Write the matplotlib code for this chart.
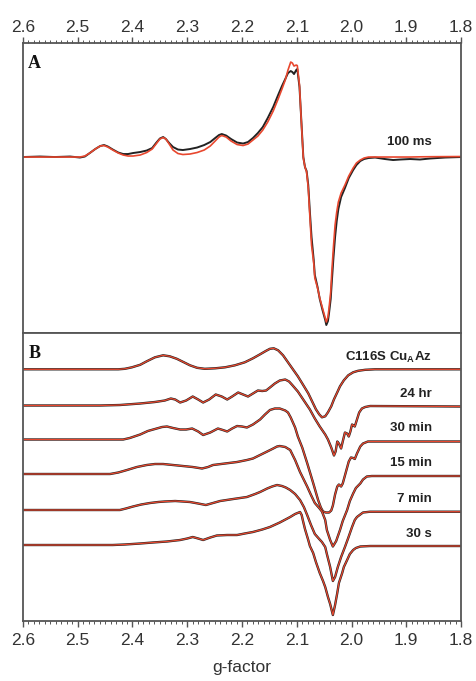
import numpy as np
import matplotlib.pyplot as plt
from matplotlib.ticker import MultipleLocator
from matplotlib.transforms import blended_transform_factory

plt.rcParams['font.family'] = ['Liberation Sans', 'DejaVu Sans']
plt.rcParams['mathtext.fontset'] = 'custom'
plt.rcParams['mathtext.rm'] = 'Liberation Sans'
plt.rcParams['mathtext.bf'] = 'Liberation Sans:bold'

# ---- panel A: 100 ms spectrum (experiment = black, simulation = red) ----
gA = [2.600, 2.569, 2.542, 2.514, 2.496, 2.487, 2.478, 2.468, 2.459, 2.452,
      2.445, 2.436, 2.426, 2.417, 2.408, 2.399, 2.386, 2.374, 2.364, 2.357,
      2.350, 2.344, 2.339, 2.333, 2.326, 2.317, 2.308, 2.295, 2.282, 2.269,
      2.258, 2.249, 2.242, 2.237, 2.229, 2.220, 2.209, 2.198, 2.189, 2.180,
      2.171, 2.162, 2.153, 2.143, 2.134, 2.127, 2.121, 2.116, 2.111, 2.108,
      2.105, 2.101, 2.099, 2.095, 2.093, 2.091, 2.088, 2.085, 2.082, 2.079,
      2.076, 2.073, 2.069, 2.067, 2.062, 2.058, 2.053, 2.048, 2.046, 2.043,
      2.041, 2.038, 2.036, 2.033, 2.030, 2.027, 2.024, 2.019, 2.012, 2.005,
      1.997, 1.991, 1.984, 1.977, 1.969, 1.957, 1.939, 1.924, 1.911, 1.893,
      1.875, 1.857, 1.829, 1.800]
iA_fit = [0, 0, 0, 0, 0, 1, 4, 8, 11, 11.5,
          10, 7, 4, 2, 1, 1, 2, 4.5, 8, 13,
          18, 19.5, 18, 13, 7, 3.5, 2.5, 3, 4.5, 7,
          11, 16, 20, 21.5, 20, 16, 12.5, 11.5, 13, 17,
          21, 27, 35, 46, 58, 68, 77, 87, 95, 94,
          91, 92, 91.5, 72, 50, 29, -1, -10, -15, -31,
          -60, -88, -106, -121, -131, -141, -151, -161, -165, -160,
          -151, -135, -115, -90, -68, -55, -45, -36, -28, -19,
          -11, -6, -3, -1, 0, 0, 0, 0, 0, 0,
          0.2, 0.3, 0.4, 0.5]
iA_exp = [0, 0.5, 0, 0.5, -0.5, 0.5, 4, 8, 11, 12,
          10.5, 7.5, 4.5, 3, 3, 4, 5, 6.5, 9, 14,
          18.5, 20, 18, 14, 10, 7.5, 7, 8, 9.5, 12,
          15, 19, 22, 23, 21.5, 18, 14.5, 13.5, 15, 19,
          24, 30, 39, 50, 62, 71, 78, 84, 86, 85,
          83, 87, 88, 70, 50, 30, 0, -10, -14, -28,
          -55, -80, -103, -118, -130, -142, -153, -163, -168, -164,
          -156, -142, -125, -101, -80, -64, -52, -40, -31, -21,
          -13, -8, -4, -2, -1, -0.5, -2, -3, -2.5, -2,
          -2.5, -1.5, -0.5, 0]

# ---- panel B: time course, each trace relative to its own baseline ----
labels_B = ['C116S Cu$_\\mathbf{A}$Az', '24 hr', '30 min', '15 min', '7 min', '30 s']
offsets_B = [0, -36.2, -70.2, -104.7, -140.7, -175.7]

g1 = [2.600, 2.459, 2.426, 2.414, 2.401, 2.386, 2.374, 2.359, 2.344, 2.332,
      2.319, 2.306, 2.295, 2.282, 2.268, 2.249, 2.231, 2.213, 2.195, 2.180,
      2.167, 2.156, 2.149, 2.142, 2.134, 2.125, 2.116, 2.107, 2.098, 2.089,
      2.079, 2.072, 2.065, 2.059, 2.054, 2.048, 2.043, 2.037, 2.032, 2.026,
      2.021, 2.014, 2.006, 1.997, 1.988, 1.975, 1.957, 1.800]
i1 = [0, 0, 0, 0.5, 2, 4.5, 8, 12, 14, 13,
      10.5, 7, 4, 1.5, 0.5, 1, 2, 4, 7, 11,
      15, 18.5, 20.5, 21, 19, 14, 7, 0, -7, -15,
      -24, -32, -40, -45, -48, -47, -43, -37, -30, -23,
      -17, -11, -6, -3, -1.5, -0.5, 0, 0]

g2 = [2.600, 2.459, 2.423, 2.386, 2.359, 2.341, 2.330, 2.322, 2.313, 2.302,
      2.290, 2.280, 2.271, 2.260, 2.248, 2.237, 2.227, 2.218, 2.207, 2.198,
      2.189, 2.180, 2.171, 2.163, 2.156, 2.149, 2.140, 2.131, 2.121, 2.114,
      2.109, 2.098, 2.087, 2.076, 2.067, 2.058, 2.048, 2.043, 2.037, 2.032,
      2.029, 2.026, 2.023, 2.019, 2.016, 2.012, 2.008, 2.005, 2.002, 1.999,
      1.996, 1.994, 1.990, 1.986, 1.981, 1.975, 1.966, 1.800]
i2 = [0, 0, 0.5, 2, 3.5, 5, 7, 6, 3, 5,
      9, 6, 3, 6, 11, 9, 6, 9, 13, 11,
      9, 12, 15, 14.5, 15, 18, 22, 25, 26, 24,
      21, 14, 5, -4, -13, -21, -29, -34, -42, -50,
      -46, -36, -38, -43, -36, -27, -28, -31, -26, -19,
      -20, -21, -14, -7, -3, -1.5, -0.5, -1]

g3 = [2.600, 2.417, 2.405, 2.386, 2.372, 2.359, 2.346, 2.337, 2.326, 2.313,
      2.302, 2.291, 2.280, 2.271, 2.258, 2.244, 2.235, 2.227, 2.218, 2.209,
      2.200, 2.191, 2.180, 2.167, 2.158, 2.149, 2.140, 2.131, 2.121, 2.116,
      2.111, 2.103, 2.098, 2.090, 2.081, 2.070, 2.061, 2.056, 2.052, 2.047,
      2.041, 2.037, 2.034, 2.030, 2.026, 2.023, 2.019, 2.016, 2.012, 2.008,
      2.005, 2.001, 1.997, 1.994, 1.990, 1.984, 1.979, 1.970, 1.800]
i3 = [0, 0, 1.5, 5, 8.5, 10.5, 12.5, 13, 11.5, 10,
      10, 11, 8, 4.5, 7, 11, 9.5, 8, 11, 13.5,
      13, 12, 15, 20, 25, 29.5, 31, 31, 29, 27,
      22, 12, 3, -8, -23.5, -43.5, -60.5, -68, -72, -73,
      -73, -71, -66, -55, -47, -45, -47, -44, -36, -28,
      -22, -18, -18.5, -19.5, -14, -7, -4, -2, -2]

g4 = [2.600, 2.441, 2.426, 2.410, 2.392, 2.374, 2.359, 2.344, 2.326, 2.308,
      2.290, 2.273, 2.262, 2.253, 2.231, 2.209, 2.191, 2.180, 2.167, 2.154,
      2.143, 2.136, 2.131, 2.121, 2.112, 2.103, 2.094, 2.081, 2.074, 2.067,
      2.059, 2.054, 2.048, 2.045, 2.039, 2.034, 2.028, 2.021, 2.016, 2.008,
      2.003, 1.997, 1.992, 1.984, 1.979, 1.972, 1.963, 1.800]
i4 = [0, 0, 1.5, 4, 7, 9, 10, 10, 9, 8,
      7, 5.5, 7, 9, 10.5, 12, 14, 15.5, 19, 22.5,
      25.5, 27.5, 28, 27, 24, 14, 2, -12.5, -21, -29,
      -34, -37.5, -46, -56, -66, -72.5, -67, -56, -47, -36,
      -27, -19.5, -14, -9.5, -5.5, -2.5, -2, -2]

g5 = [2.600, 2.423, 2.412, 2.399, 2.384, 2.368, 2.353, 2.341, 2.322, 2.308,
      2.295, 2.280, 2.266, 2.253, 2.240, 2.216, 2.191, 2.176, 2.167, 2.154,
      2.145, 2.136, 2.127, 2.120, 2.112, 2.103, 2.094, 2.087, 2.081, 2.074,
      2.067, 2.059, 2.054, 2.048, 2.045, 2.039, 2.034, 2.030, 2.025, 2.019,
      2.012, 2.006, 1.999, 1.994, 1.990, 1.984, 1.979, 1.966, 1.800]
i5 = [0, 0, 1.5, 3.5, 5.5, 7, 8, 8.5, 9, 8.5,
      8, 6.5, 5, 7, 9, 11, 13, 16, 18, 21.5,
      23.5, 25, 24, 22.5, 20, 16, 10, 3, -5, -15,
      -24, -29, -32, -37, -44, -57, -71, -67, -57, -47,
      -37, -28, -17, -10, -7, -4.5, -2.5, -1.7, -1.7]

g6 = [2.600, 2.436, 2.414, 2.386, 2.363, 2.337, 2.313, 2.300, 2.290, 2.280,
      2.271, 2.258, 2.246, 2.227, 2.209, 2.195, 2.180, 2.163, 2.149, 2.131,
      2.112, 2.103, 2.094, 2.091, 2.089, 2.085, 2.079, 2.076, 2.070, 2.065,
      2.058, 2.052, 2.048, 2.043, 2.039, 2.034, 2.030, 2.026, 2.023, 2.017,
      2.014, 2.008, 2.003, 1.997, 1.992, 1.984, 1.966, 1.800]
i6 = [0, 0, 0.5, 1.5, 2.5, 3.5, 5, 6.5, 8, 6.5,
      5, 7.5, 9.5, 10, 10, 11.5, 13, 15.5, 18, 22.5,
      28, 31, 33, 30, 25, 16, 5, -1, -8, -17,
      -28, -36, -42, -52, -59, -70, -60, -48, -38, -28,
      -22, -15, -9, -5, -3, -1.5, -1, -1]

traces_g = [g1, g2, g3, g4, g5, g6]
traces_i = [i1, i2, i3, i4, i5, i6]

tick_vals = [2.6, 2.5, 2.4, 2.3, 2.2, 2.1, 2.0, 1.9, 1.8]
tick_labels = ['2.6', '2.5', '2.4', '2.3', '2.2', '2.1', '2.0', '1.9', '1.8']

black = '#222222'
red = '#e8472e'
frame = '#555555'

fig = plt.figure(figsize=(4.76, 6.81), dpi=100)
axA = fig.add_axes([0.0483, 0.5110, 0.9202, 0.4258])
axB = fig.add_axes([0.0483, 0.0881, 0.9202, 0.4229])

axA.plot(gA, iA_exp, color=black, lw=1.4)
axA.plot(gA, iA_fit, color=red, lw=1.2)
axA.set_ylim(-176, 114)

for g, y, off in zip(traces_g, traces_i, offsets_B):
    yy = np.array(y) + off
    axB.plot(g, yy, color=black, lw=1.7)
    axB.plot(g, yy, color=red, lw=0.9)
axB.set_ylim(-251.7, 36.3)

for ax in (axA, axB):
    ax.set_xlim(2.6, 1.8)
    ax.set_yticks([])
    ax.set_xticks(tick_vals)
    ax.set_xticklabels(tick_labels)
    ax.xaxis.set_minor_locator(MultipleLocator(0.01))
    for s in ax.spines.values():
        s.set_color(frame)
        s.set_linewidth(1.3)

axA.tick_params(axis='x', which='both', top=True, bottom=False,
                labeltop=True, labelbottom=False, direction='out', color=frame)
axB.tick_params(axis='x', which='both', top=False, bottom=True,
                labeltop=False, labelbottom=True, direction='out', color=frame)
axA.tick_params(axis='x', which='major', pad=1.5)
axB.tick_params(axis='x', which='major', pad=4.5)
for ax in (axA, axB):
    ax.tick_params(axis='x', which='major', length=4, width=1.0,
                   labelsize=12.5, labelcolor='#333333')
    ax.tick_params(axis='x', which='minor', length=2.2, width=0.7)

axB.set_xlabel('g-factor', fontsize=12.5, color='#333333', labelpad=9)

axA.text(0.012, 0.931, 'A', transform=axA.transAxes, family='Liberation Serif',
         fontweight='bold', fontsize=13, ha='left', va='center', color='#111111')
axB.text(0.012, 0.929, 'B', transform=axB.transAxes, family='Liberation Serif',
         fontweight='bold', fontsize=13, ha='left', va='center', color='#111111')

axA.text(0.934, 0.659, '100 ms', transform=axA.transAxes, fontweight='bold',
         fontsize=9.5, ha='right', va='center', color='#222222')

tr = blended_transform_factory(axB.transAxes, axB.transData)
for lab, off in zip(labels_B, offsets_B):
    axB.text(0.934, off + 11.5, lab, transform=tr, fontweight='bold',
             fontsize=9.5, ha='right', va='center', color='#222222')

fig.savefig('out.png', dpi=100)
